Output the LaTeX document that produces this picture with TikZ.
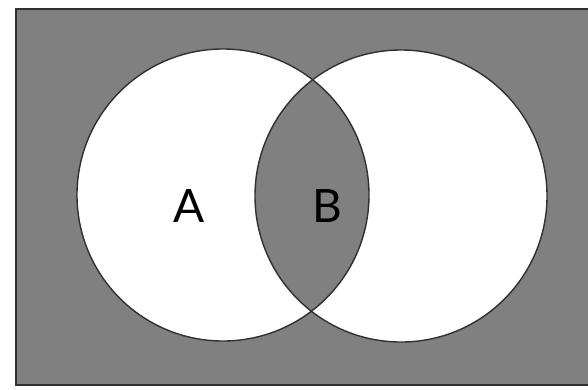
\documentclass[tikz,border=0pt]{standalone}
\usepackage{fontspec}
\setmainfont{Lato}
\definecolor{venngray}{HTML}{808080}
\definecolor{edgegray}{HTML}{303030}
\begin{document}
\begin{tikzpicture}[x=1pt,y=-1pt,
  setbox/.style={fill=venngray,draw=edgegray,line width=1.6pt},
  ring/.style={draw=edgegray,line width=1.4pt},
  lbl/.style={font=\fontsize{46}{50}\selectfont,inner sep=0pt,anchor=base}]
\useasboundingbox (0,0) rectangle (588,389);
\fill[white] (0,0) rectangle (588,389);
\node[setbox,rectangle,minimum width=574pt,minimum height=376pt,inner sep=0pt] (U) at (303,197) {};
\coordinate (cA) at (223,195);
\coordinate (cB) at (401,196);
% white circles
\fill[white] (cA) circle (146);
\fill[white] (cB) circle (146);
% lens
\begin{scope}
  \clip (cA) circle (146);
  \fill[venngray] (cB) circle (146);
\end{scope}
\draw[ring] (cA) circle (146);
\draw[ring] (cB) circle (146);
\node[lbl] (A) at (189,222) {A};
\node[lbl] (B) at (327,222) {B};
\end{tikzpicture}
\end{document}
